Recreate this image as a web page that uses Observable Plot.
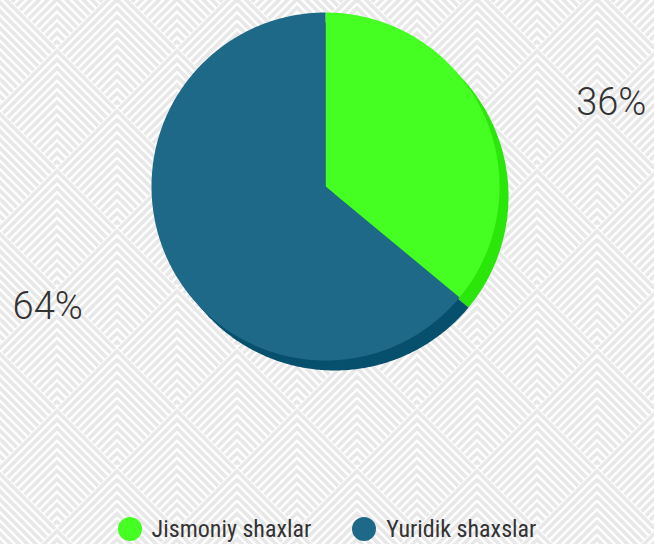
<!DOCTYPE html>
<html>
<head>
<meta charset="utf-8">
<script src="https://cdn.jsdelivr.net/npm/d3@7"></script>
<script src="https://cdn.jsdelivr.net/npm/@observablehq/plot@0.6"></script>
<style>
  html, body { margin: 0; padding: 0; background: #fff; }
  #wrap { position: relative; width: 654px; height: 544px; overflow: hidden; }
  #legend { position: absolute; left: 0; top: 517px; width: 654px; height: 24px;
    display: flex; justify-content: center; align-items: center; gap: 41px;
    font-family: "Roboto Condensed", "Liberation Sans Narrow", "DejaVu Sans Condensed", Roboto, sans-serif;
    font-size: 24px; line-height: 24px; color: #333; }
  #legend .item { display: flex; align-items: center; gap: 10px; white-space: nowrap; }
  #legend .sw { width: 24px; height: 24px; border-radius: 50%; flex: none; }
</style>
</head>
<body>
<div id="wrap"><div id="chart"></div><div id="legend"></div></div>
<script>
// ---- data ----
const categories = ["Jismoniy shaxlar", "Yuridik shaxslar"];
const values = [36, 64];
const labels = ["36%", "64%"];
const colors = ["#46ff22", "#1f6988"];
const shadowColors = ["#2ae60a", "#06506e"];

// ---- background pattern (decoration) ----
(function () {
  const T = 120, sp = 8.5;
  let d = "";
  for (let ay = -120; ay <= 120; ay += 60) {
    const odd = ((ay % 120) + 120) % 120 !== 0;
    for (let ax = odd ? -60 : -120; ax <= 180; ax += 120) {
      for (let k = 4; k < 118; k += sp) {
        const w = (120 - k) / 2;
        d += `M${ax - w},${ay + k + w}L${ax},${ay + k}L${ax + w},${ay + k + w}`;
      }
    }
  }
  const svg = `<svg xmlns='http://www.w3.org/2000/svg' width='${T}' height='${T}'><rect width='${T}' height='${T}' fill='#ffffff'/><path d='${d}' fill='none' stroke='#e8e8e8' stroke-width='3.6'/></svg>`;
  const wrap = document.getElementById("wrap");
  wrap.style.backgroundImage = `url("data:image/svg+xml,${encodeURIComponent(svg)}")`;
  wrap.style.backgroundPosition = "57px 47px";
})();

// ---- pie geometry from values ----
const pie = d3.pie().sort(null).value(d => d)(values);
const pts = [];
pie.forEach((p, i) => {
  pts.push({key: categories[i], x: 0, y: 0});
  const n = Math.max(8, Math.ceil((p.endAngle - p.startAngle) / 0.01));
  for (let j = 0; j <= n; j++) {
    const a = p.startAngle + (p.endAngle - p.startAngle) * j / n;
    pts.push({key: categories[i], x: Math.sin(a), y: Math.cos(a)});
  }
});
const labelData = pie.map((p, i) => {
  const a = (p.startAngle + p.endAngle) / 2;
  return {key: categories[i], text: labels[i], x: 1.72 * Math.sin(a), y: 1.72 * Math.cos(a)};
});

const marks = [];
categories.forEach((c, i) => {
  marks.push(Plot.line(pts.filter(d => d.key === c), {x: "x", y: "y", fill: shadowColors[i], stroke: "none", dx: 9, dy: 10}));
});
categories.forEach((c, i) => {
  marks.push(Plot.line(pts.filter(d => d.key === c), {x: "x", y: "y", fill: colors[i], stroke: "none"}));
});
marks.push(Plot.text(labelData.filter(d => d.key === categories[0]), {x: "x", y: "y", text: "text", dy: 44, dx: 15}));
marks.push(Plot.text(labelData.filter(d => d.key === categories[1]), {x: "x", y: "y", text: "text", dy: -7, dx: -7}));

const chart = Plot.plot({
  width: 654,
  height: 500,
  marginLeft: 151,
  marginRight: 155,
  marginTop: 12,
  marginBottom: 140,
  x: {domain: [-1, 1], axis: null},
  y: {domain: [-1, 1], axis: null},
  style: {background: "transparent", fontFamily: "Roboto, sans-serif", fontSize: "38px", fontWeight: 300, color: "#333", overflow: "visible"},
  marks
});
document.getElementById("chart").appendChild(chart);

// ---- legend ----
const legend = document.getElementById("legend");
categories.forEach((c, i) => {
  const it = document.createElement("div");
  it.className = "item";
  it.innerHTML = `<span class="sw" style="background:${colors[i]}"></span><span>${c}</span>`;
  legend.appendChild(it);
});
</script>
</body>
</html>
